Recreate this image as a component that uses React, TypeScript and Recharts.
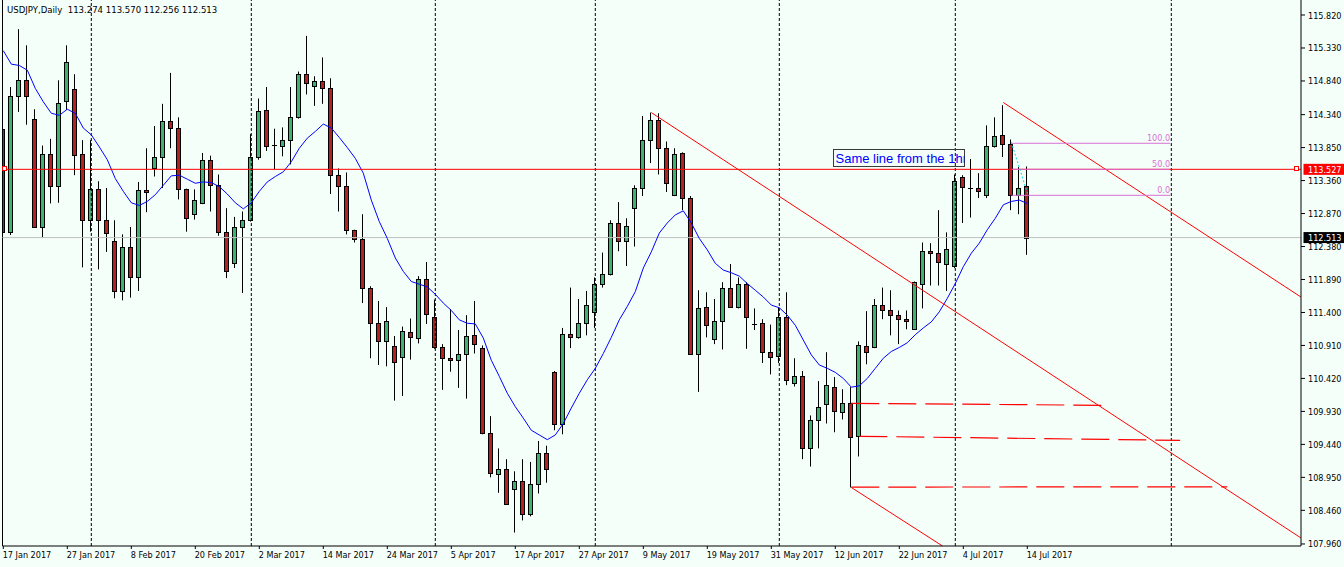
import React from 'react';
import { ComposedChart, Bar, Line, XAxis, YAxis, ReferenceLine, ReferenceDot } from 'recharts';

// ---------- data (USDJPY daily, 17 Jan 2017 .. 14 Jul 2017) ----------
const opens = [
  114.13, 112.60, 114.61, 114.85, 114.27, 112.67, 113.75, 113.28, 114.54, 114.72,
  113.75, 112.78, 113.23, 112.78, 112.46, 111.72, 112.37, 111.92, 113.22, 113.54,
  113.71, 114.25, 114.14, 113.23, 112.87, 113.03, 113.67, 113.30, 112.59, 112.13,
  112.67, 112.77, 113.71, 114.41, 113.89, 113.87, 113.96, 114.31, 114.94, 114.76,
  114.84, 114.73, 113.45, 113.28, 112.62, 112.49, 111.77, 111.25, 110.97, 110.90,
  110.74, 111.11, 111.02, 111.89, 111.34, 110.88, 110.73, 110.69, 110.79, 111.06,
  110.87, 109.61, 109.00, 109.08, 108.78, 108.90, 108.40, 108.85, 109.31, 110.51,
  109.74, 111.08, 111.03, 111.24, 111.40, 111.83, 111.97, 112.73, 112.46, 112.95,
  113.25, 113.97, 114.26, 113.84, 113.14, 113.77, 113.10, 110.79, 111.48, 111.00,
  111.28, 111.77, 111.48, 111.82, 111.23, 111.24, 110.82, 110.75, 111.34, 110.35,
  110.45, 109.38, 109.80, 110.04, 110.30, 109.92, 110.05, 109.56, 110.90, 110.88,
  111.51, 111.43, 111.36, 111.31, 111.15, 111.82, 112.32, 112.29, 112.12, 112.09,
  113.41, 113.25, 113.25, 113.14, 113.88, 114.04, 113.90, 113.14, 113.274,
];
const highs = [
  114.28, 114.75, 115.61, 115.37, 114.42, 113.88, 113.98, 114.85, 115.37, 114.94,
  113.96, 113.96, 113.35, 113.25, 112.77, 112.56, 112.67, 113.34, 113.84, 114.17,
  114.50, 114.96, 114.30, 113.24, 113.23, 113.77, 113.73, 113.45, 112.95, 112.82,
  112.90, 114.05, 114.58, 114.75, 114.13, 114.15, 114.75, 114.98, 115.51, 114.91,
  115.19, 114.88, 113.54, 113.48, 112.63, 112.86, 111.79, 111.57, 111.48, 111.05,
  111.19, 111.31, 111.94, 112.15, 111.59, 110.93, 111.45, 111.14, 111.36, 111.57,
  110.91, 109.86, 109.38, 109.22, 109.04, 109.22, 109.18, 109.49, 109.42, 110.53,
  111.17, 111.77, 111.60, 111.72, 111.92, 112.29, 112.77, 113.04, 112.80, 113.29,
  114.32, 114.37, 114.36, 113.94, 113.84, 113.78, 113.13, 111.73, 111.70, 111.60,
  111.85, 112.12, 111.92, 111.85, 111.46, 111.30, 111.22, 111.48, 111.70, 110.72,
  110.53, 109.87, 110.38, 110.81, 110.44, 110.26, 110.29, 110.97, 111.42, 111.60,
  111.77, 111.73, 111.43, 111.43, 111.86, 112.44, 112.43, 112.92, 112.59, 113.45,
  113.44, 113.68, 113.47, 114.18, 114.30, 114.48, 113.97, 113.56, 113.570,
];
const lows = [
  112.58, 112.55, 114.38, 114.19, 112.66, 112.51, 113.02, 113.03, 114.41, 113.44,
  112.07, 112.60, 112.04, 112.30, 111.61, 111.58, 111.62, 111.72, 112.89, 113.42,
  113.25, 113.84, 113.08, 112.60, 112.78, 113.01, 112.90, 112.54, 111.91, 112.06,
  111.69, 112.75, 113.67, 113.80, 113.53, 113.72, 113.60, 114.28, 114.64, 114.47,
  114.50, 113.16, 112.90, 112.56, 112.44, 111.54, 110.72, 110.62, 110.60, 110.09,
  110.16, 110.70, 110.94, 111.23, 110.86, 110.25, 110.52, 110.28, 110.12, 110.79,
  109.59, 108.95, 108.72, 108.54, 108.13, 108.31, 108.37, 108.71, 108.87, 109.65,
  109.59, 110.87, 111.01, 111.06, 111.17, 111.77, 111.95, 112.31, 112.09, 112.38,
  113.13, 113.62, 113.45, 113.19, 113.13, 112.92, 110.78, 110.22, 111.03, 110.93,
  110.85, 111.47, 111.46, 110.86, 111.14, 110.65, 110.48, 110.65, 110.32, 110.30,
  109.22, 109.11, 109.38, 109.75, 109.62, 109.81, 108.80, 109.26, 110.63, 110.87,
  111.30, 111.06, 110.93, 111.15, 111.14, 111.46, 111.80, 111.80, 111.72, 112.06,
  112.73, 112.81, 113.10, 113.10, 113.85, 113.71, 112.92, 112.86, 112.256,
];
const closes = [
  112.60, 114.61, 114.85, 114.61, 112.67, 113.75, 113.28, 114.51, 115.12, 113.74,
  112.78, 113.23, 112.78, 112.58, 111.72, 112.38, 111.92, 113.22, 113.19, 113.71,
  114.25, 114.14, 113.23, 112.80, 113.07, 113.67, 113.29, 112.59, 112.01, 112.67,
  112.77, 113.71, 114.40, 113.88, 113.89, 113.96, 114.30, 114.95, 114.81, 114.84,
  114.73, 113.45, 113.28, 112.62, 112.49, 111.77, 111.25, 110.97, 111.27, 110.66,
  111.12, 111.03, 111.89, 111.37, 110.88, 110.73, 110.69, 110.79, 111.05, 110.93,
  109.61, 109.01, 109.08, 108.56, 108.90, 108.40, 108.85, 109.31, 109.08, 109.74,
  111.08, 111.03, 111.24, 111.51, 111.82, 111.97, 112.73, 112.46, 112.68, 113.25,
  113.97, 114.26, 113.84, 113.32, 113.75, 113.10, 110.79, 111.46, 111.22, 111.28,
  111.77, 111.48, 111.82, 111.33, 111.23, 110.82, 110.74, 111.33, 110.39, 110.45,
  109.38, 109.80, 109.99, 110.32, 109.93, 110.05, 109.55, 110.91, 110.82, 111.51,
  111.43, 111.36, 111.31, 111.27, 111.85, 112.32, 112.28, 112.15, 112.35, 113.36,
  113.26, 113.25, 113.20, 113.88, 114.02, 113.91, 113.14, 113.25, 112.513,
];
// moving average (blue line)
const maValues = [
  115.29, 115.09, 115.07, 115.00, 114.73, 114.53, 114.36, 114.33, 114.42, 114.36,
  114.14, 114.04, 113.86, 113.67, 113.39, 113.20, 113.03, 112.99, 113.05, 113.15,
  113.29, 113.43, 113.44, 113.38, 113.32, 113.34, 113.33, 113.27, 113.16, 113.03,
  112.94, 113.03, 113.20, 113.34, 113.42, 113.49, 113.64, 113.84, 113.99, 114.09,
  114.20, 114.14, 114.00, 113.85, 113.69, 113.47, 113.07, 112.75, 112.50, 112.21,
  112.01, 111.86, 111.82, 111.78, 111.67, 111.54, 111.43, 111.29, 111.24, 111.23,
  111.02, 110.69, 110.45, 110.20, 110.00, 109.83, 109.65, 109.58, 109.51, 109.58,
  109.75, 109.98, 110.20, 110.40, 110.57, 110.79, 111.03, 111.29, 111.49, 111.71,
  112.06, 112.30, 112.58, 112.73, 112.85, 112.91, 112.73, 112.50, 112.33, 112.13,
  112.03, 111.99, 111.94, 111.83, 111.73, 111.63, 111.51, 111.47, 111.36, 111.21,
  110.99, 110.77, 110.62, 110.57, 110.51, 110.42, 110.29, 110.31, 110.42, 110.57,
  110.72, 110.82, 110.88, 110.95, 111.07, 111.17, 111.26, 111.41, 111.61, 111.83,
  112.08, 112.28, 112.43, 112.63, 112.80, 113.00, 113.05, 113.07, 113.02,
];

const dateLabels = [
  '17 Jan 2017', '27 Jan 2017', '8 Feb 2017', '20 Feb 2017', '2 Mar 2017', '14 Mar 2017',
  '24 Mar 2017', '5 Apr 2017', '17 Apr 2017', '27 Apr 2017', '9 May 2017', '19 May 2017',
  '31 May 2017', '12 Jun 2017', '22 Jun 2017', '4 Jul 2017', '14 Jul 2017',
];
const dateLabelIdx = [0, 8, 16, 24, 32, 40, 48, 56, 64, 72, 80, 88, 96, 104, 112, 120, 128];
const priceTicks = [
  115.82, 115.33, 114.84, 114.34, 113.85, 113.36, 112.87, 112.38, 111.89,
  111.4, 110.91, 110.42, 109.93, 109.44, 108.95, 108.46, 107.96,
];
const monthStartIdx = [11, 31, 54, 74, 97, 119, 146];
const xDomain: [number, number] = [-0.1, 162.2125];
const yDomain: [number, number] = [107.93, 116.043];

const trendLines = [
  { x1: 81, y1: 114.37, x2: 162.2, y2: 108.05 },
  { x1: 125, y1: 114.52, x2: 162.2, y2: 111.63 },
  { x1: 106, y1: 108.8, x2: 117.4, y2: 107.93 },
];
const dashedLines = [
  { x1: 106, y1: 110.05, x2: 138.3, y2: 110.02 },
  { x1: 107, y1: 109.56, x2: 147.1, y2: 109.5 },
  { x1: 106, y1: 108.805, x2: 153, y2: 108.81 },
];
const fibLevels = [
  { label: '100.0', price: 113.914 },
  { label: '50.0', price: 113.527 },
  { label: '0.0', price: 113.141 },
];
const fibStartIdx = 126.05;
const fibEndIdx = 145.85;
const fibSwing = { x1: 126, y1: 113.93, x2: 128.1, y2: 113.14 };
const priceLine = 113.527;
const bidLine = 112.513;
const priceLineHandles = [0.21, 161.75];
const note = { text: 'Same line from the 1hr', idx: 103.75, price: 113.829 };
const headerText = 'USDJPY,Daily  113.274 113.570 112.256 112.513';

const data = opens.map((o, i) => ({
  i,
  o,
  h: highs[i],
  l: lows[i],
  c: closes[i],
  range: [lows[i], highs[i]],
  ma: maValues[i],
}));

// ---------- styles ----------
const BG = '#F5FFFA';
const UP = '#3CB371';
const DOWN = '#B22222';
const RED = '#FF0000';
const FONT = '"DejaVu Sans Condensed", "DejaVu Sans", sans-serif';

const Candle = (props: any) => {
  const { x, y, width, height, payload } = props;
  if (!payload || x == null) return null;
  const { o, h, l, c } = payload;
  const top = Math.min(y, y + height);
  const hgt = Math.abs(height);
  const cx = Math.floor(x + width / 2) + 0.5;
  const span = h - l || 1;
  const yOf = (v: number) => top + ((h - v) / span) * hgt;
  const yO = yOf(o);
  const yC = yOf(c);
  const bTop = Math.round(Math.min(yO, yC)) + 0.5;
  const bBot = Math.round(Math.max(yO, yC)) + 0.5;
  return (
    <g>
      <line x1={cx} x2={cx} y1={top} y2={top + hgt} stroke="#000" strokeWidth={1} />
      {o === c ? (
        <line x1={cx - 2.5} x2={cx + 2.5} y1={bTop} y2={bTop} stroke="#000" strokeWidth={1} />
      ) : (
        <rect
          x={cx - 2}
          y={bTop}
          width={4}
          height={Math.max(bBot - bTop, 1)}
          fill={c > o ? UP : DOWN}
          stroke="#000"
          strokeWidth={1}
        />
      )}
    </g>
  );
};

const DateTick = (props: any) => {
  const { x, y, payload } = props;
  const k = dateLabelIdx.indexOf(payload.value);
  return (
    <text x={x - 0.6} y={y + 9} textAnchor="start" fontSize={9} fontFamily={FONT} fill="#000">
      {k >= 0 ? dateLabels[k] : ''}
    </text>
  );
};

const PriceTick = (props: any) => {
  const { x, y, payload } = props;
  return (
    <text x={x + 3} y={y + 3.5} textAnchor="start" fontSize={9} fontFamily={FONT} fill="#000">
      {Number(payload.value).toFixed(3)}
    </text>
  );
};

const makeTag = (fill: string, text: string) => (props: any) => {
  const { cx, cy } = props;
  return (
    <g>
      <rect x={cx + 2.5} y={cy - 5.5} width={44} height={11} fill={fill} />
      <text x={cx + 7} y={cy + 3.5} fontSize={9} fontFamily={FONT} fill="#fff">
        {text}
      </text>
    </g>
  );
};

const Handle = (props: any) => {
  const { cx, cy } = props;
  return <rect x={Math.round(cx) - 2.5} y={Math.round(cy) - 2.5} width={4} height={4} fill="#fff" stroke={RED} strokeWidth={1} />;
};

const NoteBox = (props: any) => {
  const { cx, cy } = props;
  const bx = Math.round(cx) + 0.5;
  const by = Math.round(cy) + 0.5;
  return (
    <g>
      <defs>
        <clipPath id="noteClip">
          <rect x={bx} y={by} width={131} height={17} />
        </clipPath>
      </defs>
      <rect x={bx} y={by} width={131} height={17} fill="none" stroke="#3a3a3a" strokeWidth={1} />
      <text
        x={bx + 2}
        y={by + 13}
        fontSize={13}
        fontFamily='"Liberation Sans", Arial, sans-serif'
        fill="#0000FF"
        clipPath="url(#noteClip)"
      >
        {note.text}
      </text>
    </g>
  );
};

const makeFibLabel = (text: string) => (props: any) => {
  const { cx, cy } = props;
  return (
    <text x={cx} y={cy - 2} textAnchor="end" fontSize={9} fontFamily={FONT} fill="#DA70D6">
      {text}
    </text>
  );
};

export default function App() {
  return (
    <div style={{ position: 'absolute', left: 0, top: 0, width: 1344, height: 567, background: BG }}>
      <ComposedChart
        width={1344}
        height={567}
        data={data}
        margin={{ top: 0, right: 0, bottom: 0, left: 2.5 }}
        barGap={0}
        barCategoryGap={0}
      >
        <XAxis
          type="number"
          dataKey="i"
          domain={xDomain}
          allowDataOverflow
          ticks={dateLabelIdx}
          interval={0}
          tick={(p: any) => <DateTick {...p} />}
          tickSize={3}
          tickMargin={0}
          tickLine={{ stroke: '#000' }}
          axisLine={{ stroke: '#000' }}
          height={21}
        />
        <YAxis
          orientation="right"
          type="number"
          domain={yDomain}
          allowDataOverflow
          ticks={priceTicks}
          interval={0}
          tick={(p: any) => <PriceTick {...p} />}
          tickSize={4}
          tickMargin={0}
          tickLine={{ stroke: '#000' }}
          axisLine={{ stroke: '#000' }}
          width={43}
        />
        <ReferenceLine x={xDomain[0]} stroke="#000" strokeWidth={1} ifOverflow="visible" />
        {monthStartIdx.map((m) => (
          <ReferenceLine key={'m' + m} x={m} stroke="#000" strokeDasharray="3 2" strokeWidth={1} />
        ))}
        <ReferenceLine y={bidLine} stroke="#C0C0C0" strokeWidth={1} />
        <Bar dataKey="range" barSize={7} isAnimationActive={false} shape={(p: any) => <Candle {...p} />} />
        <Line
          dataKey="ma"
          type="linear"
          stroke="#0000FF"
          strokeWidth={1}
          dot={false}
          activeDot={false}
          isAnimationActive={false}
        />
        <ReferenceLine y={priceLine} stroke={RED} strokeWidth={1} />
        {trendLines.map((t, k) => (
          <ReferenceLine
            key={'t' + k}
            segment={[{ x: t.x1, y: t.y1 }, { x: t.x2, y: t.y2 }]}
            stroke={RED}
            strokeWidth={1}
            ifOverflow="visible"
          />
        ))}
        {dashedLines.map((t, k) => (
          <ReferenceLine
            key={'d' + k}
            segment={[{ x: t.x1, y: t.y1 }, { x: t.x2, y: t.y2 }]}
            stroke={RED}
            strokeWidth={1.2}
            strokeDasharray="28 9"
            ifOverflow="visible"
          />
        ))}
        {fibLevels.map((f) => (
          <ReferenceLine
            key={'f' + f.label}
            segment={[{ x: fibStartIdx, y: f.price }, { x: fibEndIdx, y: f.price }]}
            stroke="#DA70D6"
            strokeWidth={1}
            ifOverflow="visible"
          />
        ))}
        <ReferenceLine
          segment={[{ x: fibSwing.x1, y: fibSwing.y1 }, { x: fibSwing.x2, y: fibSwing.y2 }]}
          stroke="#00D8E0"
          strokeDasharray="2 2"
          strokeWidth={1}
          ifOverflow="visible"
        />
        {fibLevels.map((f) => (
          <ReferenceDot
            key={'fl' + f.label}
            x={fibEndIdx}
            y={f.price}
            r={0}
            ifOverflow="visible"
            shape={makeFibLabel(f.label)}
          />
        ))}
        {priceLineHandles.map((hx) => (
          <ReferenceDot key={'h' + hx} x={hx} y={priceLine} r={2} ifOverflow="visible" shape={(p: any) => <Handle {...p} />} />
        ))}
        <ReferenceDot x={note.idx} y={note.price} r={0} ifOverflow="visible" shape={(p: any) => <NoteBox {...p} />} />
        <ReferenceDot
          x={xDomain[1]}
          y={priceLine}
          r={0}
          ifOverflow="visible"
          shape={makeTag(RED, priceLine.toFixed(3))}
        />
        <ReferenceDot
          x={xDomain[1]}
          y={bidLine}
          r={0}
          ifOverflow="visible"
          shape={makeTag('#000000', bidLine.toFixed(3))}
        />
      </ComposedChart>
      <svg
        width={320}
        height={20}
        style={{ position: 'absolute', left: 0, top: 0, pointerEvents: 'none' }}
      >
        <text x={7} y={13} fontSize={9.5} fontFamily={FONT} fill="#000" style={{ whiteSpace: 'pre' }}>
          {headerText}
        </text>
      </svg>
    </div>
  );
}
